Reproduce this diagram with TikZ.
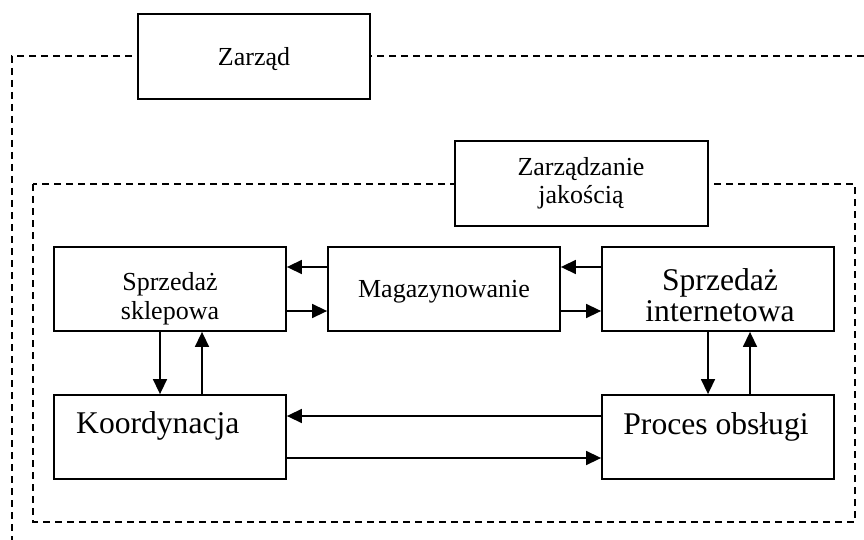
\documentclass[tikz,border=0pt]{standalone}
\usepackage{fontspec}
\setmainfont{Liberation Serif}
\usetikzlibrary{arrows.meta}
\begin{document}
\begin{tikzpicture}[x=1pt,y=-1pt,
  box/.style={draw, line width=1.8pt, fill=white, inner sep=0pt, minimum width=232pt, minimum height=84pt},
  dashline/.style={dash pattern=on 7pt off 5pt, line width=1.4pt},
  arr/.style={line width=1.5pt, -{Triangle[length=15pt,width=14pt]}},
  small/.style={font=\fontsize{26}{29}\selectfont, inner sep=0pt, anchor=base},
  big/.style={font=\fontsize{31.6}{31}\selectfont, inner sep=0pt, anchor=base}]
\useasboundingbox (0,0) rectangle (864,540);
% dashed frames
\coordinate (o1) at (864,56);
\coordinate (o2) at (12,56);
\coordinate (o3) at (12,540);
\draw[dashline] (o1) -- (o2) -- (o3);
\coordinate (i1) at (33,184);
\coordinate (i2) at (855,522);
\draw[dashline] (i1) rectangle (i2);
% boxes
\node[box, minimum height=85pt] (zarzad) at (254,56.5) {};
\node[box, minimum width=253pt, minimum height=85pt] (zj) at (581.5,183.5) {};
\node[box] (ss) at (170,289) {};
\node[box] (mag) at (444,289) {};
\node[box] (si) at (718,289) {};
\node[box] (ko) at (170,437) {};
\node[box] (po) at (718,437) {};
% texts
\node[small] (tzarzad) at (254,65.7) {Zarząd};
\node[small] (tzj1) at (581,175.7) {Zarządzanie};
\node[small] (tzj2) at (581,204) {jakością};
\node[small] (tss1) at (170,290.7) {Sprzedaż};
\node[small] (tss2) at (170,319) {sklepowa};
\node[small] (tmag) at (444,297.5) {Magazynowanie};
\node[big] (tsi1) at (720,290) {Sprzedaż};
\node[big] (tsi2) at (720,321) {internetowa};
\node[big, anchor=base west] (tko) at (76,433) {Koordynacja};
\node[big] (tpo) at (716,434) {Proces obsługi};
% connectors
\draw[arr] (mag.west |- 0,267) -- (ss.east |- 0,267);
\draw[arr] (ss.east |- 0,311) -- (mag.west |- 0,311);
\draw[arr] (si.west |- 0,267) -- (mag.east |- 0,267);
\draw[arr] (mag.east |- 0,311) -- (si.west |- 0,311);
\draw[arr] (ss.south -| 160,0) -- (ko.north -| 160,0);
\draw[arr] (ko.north -| 202,0) -- (ss.south -| 202,0);
\draw[arr] (si.south -| 708,0) -- (po.north -| 708,0);
\draw[arr] (po.north -| 750,0) -- (si.south -| 750,0);
\draw[arr] (po.west |- 0,416) -- (ko.east |- 0,416);
\draw[arr] (ko.east |- 0,458) -- (po.west |- 0,458);
\end{tikzpicture}
\end{document}
